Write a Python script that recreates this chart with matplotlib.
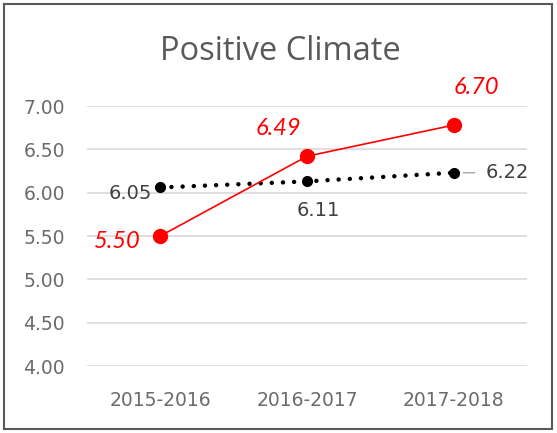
import matplotlib
matplotlib.use("Agg")
import matplotlib.pyplot as plt
from matplotlib.patches import Rectangle

categories = ["2015-2016", "2016-2017", "2017-2018"]
school_values = [5.50, 6.42, 6.78]
school_labels = ["5.50", "6.49", "6.70"]
avg_values = [6.06, 6.13, 6.23]
avg_labels = ["6.05", "6.11", "6.22"]
yticks = [4.00, 4.50, 5.00, 5.50, 6.00, 6.50, 7.00]

W, H = 557, 433
fig = plt.figure(figsize=(W / 100, H / 100), dpi=100)
ax = fig.add_axes([87 / W, 1 - 366 / H, 440 / W, 260 / H])

x = list(range(len(categories)))
ax.plot(x, avg_values, color="black", linewidth=3.2, dashes=(0.01, 2.5),
        dash_capstyle="round", marker="o", markersize=7, zorder=3)
ax.plot(x, school_values, color="#FF0000", linewidth=1.2, marker="o",
        markersize=10, zorder=4)

ax.set_xlim(-0.5, 2.5)
ax.set_ylim(4.0, 7.0)
ax.set_yticks(yticks)
ax.set_yticklabels([f"{v:.2f}" for v in yticks])
ax.set_xticks(x)
ax.set_xticklabels(categories)
ax.grid(axis="y", color="#D9D9D9", linewidth=1.2)
ax.set_axisbelow(True)
for s in ax.spines.values():
    s.set_visible(False)
ax.tick_params(length=0, labelsize=13.5, labelcolor="#6b6b6b")
ax.tick_params(axis="y", pad=16)
ax.tick_params(axis="x", pad=18)
for lab in ax.get_xticklabels() + ax.get_yticklabels():
    lab.set_family("DejaVu Sans")

fig.text(280 / W, 1 - 52 / H, "Positive Climate", ha="center", va="center",
         fontsize=23.5, color="#595959", family="Open Sans")

red_offsets = [(-43, -5), (-29, 28), (23, 38)]
for xi, v, lab, off in zip(x, school_values, school_labels, red_offsets):
    ax.annotate(lab, (xi, v), xytext=off, textcoords="offset pixels",
                ha="center", va="center", color="#FF0000", fontsize=17,
                style="italic", family="Lato", weight="normal",
                annotation_clip=False)

blk_offsets = [(-30, -6), (11, -29), (54, 0)]
for i, (xi, v, lab, off) in enumerate(zip(x, avg_values, avg_labels, blk_offsets)):
    ax.annotate(lab, (xi, v), xytext=off, textcoords="offset pixels",
                ha="center", va="center", color="#404040", fontsize=14,
                family="DejaVu Sans", annotation_clip=False)
ax.annotate("", (2, avg_values[2]), xytext=(21, 0), textcoords="offset pixels",
            arrowprops=dict(arrowstyle="-", color="#A6A6A6", lw=1,
                            shrinkA=0, shrinkB=7))

fig.patches.append(Rectangle((4 / W, 4 / H), 548 / W, 425 / H,
                             transform=fig.transFigure, fill=False,
                             edgecolor="#595959", linewidth=1.5))

fig.savefig("out.png", dpi=100)
